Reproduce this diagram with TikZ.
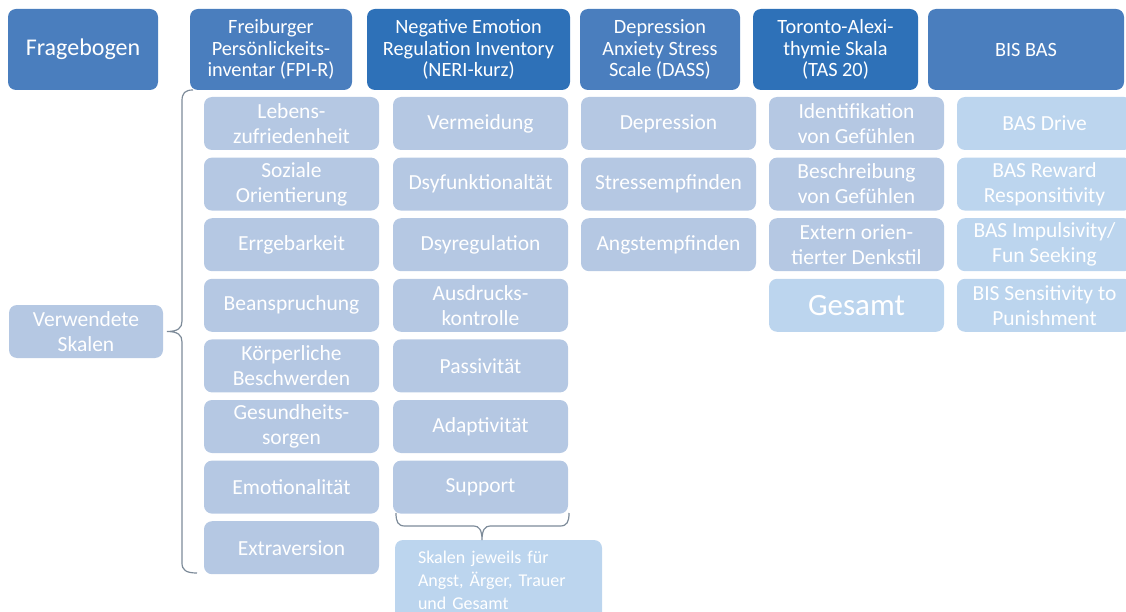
\documentclass[tikz,border=0pt]{standalone}
\usepackage{fontspec}
\setmainfont{Carlito}
\definecolor{headblue}{HTML}{4A7EBE}
\definecolor{darkblue}{HTML}{2E71B8}
\definecolor{subblue}{HTML}{B5C8E3}
\definecolor{paleblue}{HTML}{BCD5EE}
\definecolor{bracegray}{HTML}{7D8B99}
\begin{document}
\begin{tikzpicture}[x=1pt, y=-1pt,
    box/.style={rounded corners=8pt, text=white, align=center, inner sep=0pt},
    head/.style={box, fill=headblue, minimum height=81pt, font=\fontsize{20.3}{21.7}\selectfont},
    sub/.style={box, fill=subblue, minimum width=175pt, minimum height=53pt, font=\fontsize{21.5}{25}\selectfont},
    curly/.style={draw=bracegray, line width=1.2pt}]
   \useasboundingbox (0,0) rectangle (1126,612);

   % Kopfzeile
   \begin{scope}
    \node[head, minimum width=150pt, font=\fontsize{24}{26}\selectfont] (frage) at (83,49.5) {Fragebogen};
    \node[head, minimum width=162pt] (fpi) at (271,49.5) {Freiburger\\Persönlickeits-\\inventar (FPI-R)};
    \node[head, fill=darkblue, minimum width=203pt] (neri) at (468.5,49.5) {Negative Emotion\\Regulation Inventory\\(NERI-kurz)};
    \node[head, minimum width=160pt] (dass) at (660,49.5) {Depression\\Anxiety Stress\\Scale (DASS)};
    \node[head, fill=darkblue, minimum width=165pt] (tas) at (835.5,49.5) {Toronto-Alexi-\\thymie Skala\\(TAS 20)};
    \node[head, minimum width=196pt] (bis) at (1026,49.5) {BIS BAS};
   \end{scope}

   % Skalen
   \begin{scope}[every node/.style={sub}]
    \node (verw) at (86,331.5) [minimum width=154pt] {Verwendete\\Skalen};

    \node (f1) at (291.5,123.5) {Lebens-\\zufriedenheit};
    \node (f2) at (291.5,184.1) {Soziale\\Orientierung};
    \node (f3) at (291.5,244.7) {Errgebarkeit};
    \node (f4) at (291.5,305.3) {Beanspruchung};
    \node (f5) at (291.5,365.9) {Körperliche\\Beschwerden};
    \node (f6) at (291.5,426.5) {Gesundheits-\\sorgen};
    \node (f7) at (291.5,487.1) {Emotionalität};
    \node (f8) at (291.5,547.7) {Extraversion};

    \node (n1) at (480.5,123.5) {Vermeidung};
    \node (n2) at (480.5,184.1) {Dsyfunktionaltät};
    \node (n3) at (480.5,244.7) {Dsyregulation};
    \node (n4) at (480.5,305.3) {Ausdrucks-\\kontrolle};
    \node (n5) at (480.5,365.9) {Passivität};
    \node (n6) at (480.5,426.5) {Adaptivität};
    \node (n7) at (480.5,487.1) {Support};

    \node (d1) at (668.5,123.5) {Depression};
    \node (d2) at (668.5,184.1) {Stressempfinden};
    \node (d3) at (668.5,244.7) {Angstempfinden};

    \node (t1) at (856.5,123.5) {Identifikation\\von Gefühlen};
    \node (t2) at (856.5,184.1) {Beschreibung\\von Gefühlen};
    \node (t3) at (856.5,244.7) {Extern orien-\\tierter Denkstil};
    \node (t4) at (856.5,305.3) [fill=paleblue, font=\fontsize{31}{33}\selectfont] {Gesamt};

    \node (b1) at (1044.5,123.5) [fill=paleblue] {BAS Drive};
    \node (b2) at (1044.5,184.1) [fill=paleblue] {BAS Reward\\Responsitivity};
    \node (b3) at (1044.5,244.7) [fill=paleblue] {BAS Impulsivity/\\Fun Seeking};
    \node (b4) at (1044.5,305.3) [fill=paleblue] {BIS Sensitivity to\\Punishment};
   \end{scope}

   \node[box, fill=paleblue, minimum width=207pt, minimum height=80pt, text width=161pt,
         inner xsep=23pt, align=left, font=\fontsize{18}{23}\selectfont] (skalen) at (498.5,580)
         {Skalen jeweils für\\Angst, Ärger, Trauer\\und Gesamt};

   % Klammern
   \coordinate (fpitop) at (193,90);
   \coordinate (fpibot) at (197,573);
   \coordinate (fpitip) at (167,331.5);
   \coordinate (nerileft) at (396,513);
   \coordinate (neriright) at (569,513);
   \coordinate (neritip) at (482,540);

   \draw[curly] (fpitop) .. controls (185,90) and (182,93) .. (182,101) -- (182,321)
      .. controls (182,328) and (178,331.5) .. (fpitip)
      .. controls (178,331.5) and (182,335) .. (182,342) -- (182,563)
      .. controls (182,570) and (186,573) .. (fpibot);
   \draw[curly] (nerileft) .. controls (396,522) and (398,526) .. (405,526) -- (474,526)
      .. controls (479,526) and (482,530) .. (neritip)
      .. controls (482,530) and (485,526) .. (490,526) -- (560,526)
      .. controls (567,526) and (569,522) .. (neriright);
\end{tikzpicture}
\end{document}
